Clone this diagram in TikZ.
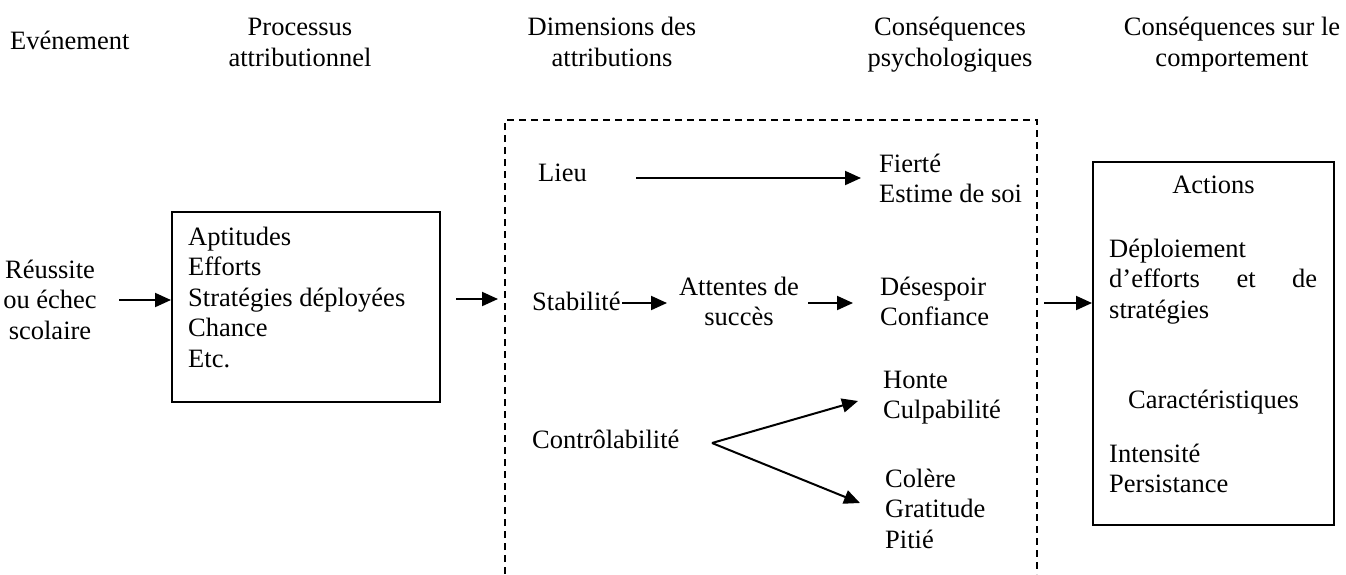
\documentclass[tikz,border=0pt]{standalone}
\usepackage{fontspec}
\setmainfont{Liberation Serif}
\usetikzlibrary{arrows.meta}
\begin{document}
\begin{tikzpicture}[x=1pt,y=-1pt,
  txt/.style={inner sep=0pt, font=\fontsize{26.5}{30.5}\selectfont, align=left, anchor=base west},
  ctxt/.style={txt, align=center, anchor=base},
  arr/.style={line width=2pt, -{Triangle[length=16pt,width=14pt]}},
  boxx/.style={draw, line width=2pt, inner sep=0pt},
  dsh/.style={line width=2pt, dash pattern=on 7pt off 5pt}]
\useasboundingbox (0,0) rectangle (1346,574);
% headers (anchor = baseline of last line)
\node[txt] (h1) at (10,49) {Evénement};
\node[ctxt] (h2) at (300,66) {Processus\\attributionnel};
\node[ctxt] (h3) at (612,66) {Dimensions des\\attributions};
\node[ctxt] (h4) at (950,66) {Conséquences\\psychologiques};
\node[ctxt] (h5) at (1232,66) {Conséquences sur le\\comportement};
% left event
\node[ctxt] (reu) at (50,339) {Réussite\\ou échec\\scolaire};
\coordinate (a1s) at (119,300);
% box 1
\node[boxx, minimum width=268pt, minimum height=190pt] (box1) at (306,307) {};
\node[txt] (box1t) at (188,367) {Aptitudes\\Efforts\\Stratégies déployées\\Chance\\Etc.};
\draw[arr] (a1s) -- (box1.west |- a1s);
% dashed frame
\coordinate (dbl) at (505,574);
\coordinate (dtl) at (505,120);
\coordinate (dtr) at (1037,120);
\coordinate (dbr) at (1037,574);
\draw[dsh] (dbl) -- (dtl) -- (dtr) -- (dbr);
\coordinate (a2s) at (456,299);
\coordinate (a2e) at (498,299);
\draw[arr] (a2s) -- (a2e);
% Lieu row
\node[txt] (lieu) at (538,181) {Lieu};
\node[txt] (fier) at (879,202.5) {Fierté\\Estime de soi};
\coordinate (l1) at (636,178);
\coordinate (l2) at (861,178);
\draw[arr] (l1) -- (l2);
% Stabilite row
\node[txt] (stab) at (532,310) {Stabilité};
\node[ctxt] (att) at (739,325.5) {Attentes de\\succès};
\node[txt] (des) at (880,325.5) {Désespoir\\Confiance};
\coordinate (s1) at (622,303);
\coordinate (s2) at (667,303);
\coordinate (s3) at (808,303);
\coordinate (s4) at (853,303);
\draw[arr] (s1) -- (s2);
\draw[arr] (s3) -- (s4);
% Controlabilite row
\node[txt] (ctrl) at (532,448) {Contrôlabilité};
\node[txt] (hon) at (883,418.5) {Honte\\Culpabilité};
\node[txt] (col) at (885,548) {Colère\\Gratitude\\Pitié};
\coordinate (br) at (712,443);
\coordinate (t1) at (858,401);
\coordinate (t2) at (860,503);
\draw[arr] (br) -- (t1);
\draw[arr] (br) -- (t2);
% box 3
\coordinate (a3s) at (1044,303);
\node[boxx, minimum width=241pt, minimum height=363pt] (box3) at (1213.5,343.5) {};
\draw[arr] (a3s) -- (box3.west |- a3s);
\node[ctxt] (act) at (1213.5,193) {Actions};
\node[txt] (dep) at (1109,318) {Déploiement\\\hbox to 208pt{d’efforts\hfill et\hfill de}\\stratégies};
\node[ctxt] (car) at (1213.5,408) {Caractéristiques};
\node[txt] (int) at (1109,492.5) {Intensité\\Persistance};
\end{tikzpicture}
\end{document}
